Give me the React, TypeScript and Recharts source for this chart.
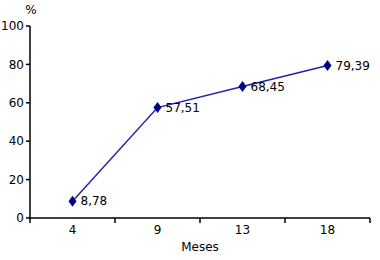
import React from 'react'
import { LineChart, Line, XAxis, YAxis, LabelList } from 'recharts'

const months = ['4', '9', '13', '18']
const percent = [8.78, 57.51, 68.45, 79.39]
const yTicks = [0, 20, 40, 60, 80, 100]

const data = months.map((m, i) => ({ month: m, value: percent[i] }))

const font = 'DejaVu Sans, Verdana, sans-serif'

function Diamond(props: any) {
  const { cx, cy } = props
  if (cx == null || cy == null) return null
  return (
    <polygon
      points={`${cx},${cy - 5.5} ${cx + 4},${cy} ${cx},${cy + 5.5} ${cx - 4},${cy}`}
      fill='#000080'
    />
  )
}

function MonthTick(props: any) {
  const { x, y, payload, index } = props
  const half = payload.offset || 0
  return (
    <g>
      <line x1={x - half} y1={y} x2={x - half} y2={y + 5} stroke='#000' strokeWidth={1.5} />
      {index === months.length - 1 && (
        <line x1={x + half} y1={y} x2={x + half} y2={y + 5} stroke='#000' strokeWidth={1.5} />
      )}
      <text x={x} y={y + 16} textAnchor='middle' fontSize={12} fontFamily={font} fill='#000'>
        {payload.value}
      </text>
    </g>
  )
}

export default function App() {
  return (
    <div style={{ position: 'absolute', left: 0, top: 0, background: '#fff' }}>
      <LineChart
        width={380}
        height={260}
        data={data}
        margin={{ top: 26, right: 10, left: 0, bottom: 0 }}
      >
        <XAxis
          dataKey='month'
          scale='band'
          height={42}
          tickLine={false}
          tickSize={0}
          tickMargin={0}
          axisLine={{ stroke: '#000', strokeWidth: 1.5 }}
          tick={<MonthTick />}
          interval={0}
          label={{ value: 'Meses', position: 'insideBottom', offset: 9, fontSize: 12, fontFamily: font, fill: '#000' }}
        />
        <YAxis
          width={30}
          domain={[0, 100]}
          ticks={yTicks}
          tickSize={4}
          tickMargin={2}
          axisLine={{ stroke: '#000', strokeWidth: 1.5 }}
          tickLine={{ stroke: '#000', strokeWidth: 1.5 }}
          tick={{ fontSize: 12, fontFamily: font, fill: '#000' }}
          label={{ value: '%', position: 'top', dx: 16, offset: 12, fontSize: 12, fontFamily: font, fill: '#000' }}
        />
        <Line
          dataKey='value'
          stroke='#2222aa'
          strokeWidth={1.5}
          dot={<Diamond />}
          activeDot={false}
          isAnimationActive={false}
        >
          <LabelList
            dataKey='value'
            position='right'
            offset={8}
            formatter={(v: any) => String(v).replace('.', ',')}
            style={{ fontSize: 12, fontFamily: font, fill: '#000' }}
          />
        </Line>
      </LineChart>
    </div>
  )
}
